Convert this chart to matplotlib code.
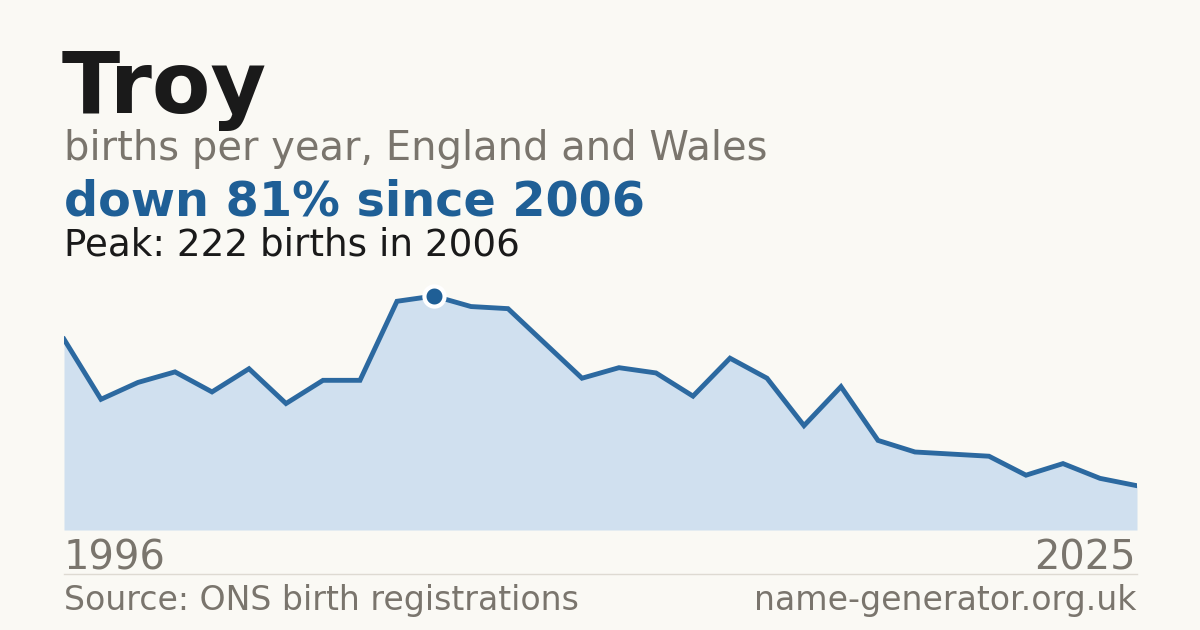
import matplotlib.pyplot as plt

plt.rcParams['font.family'] = ['DejaVu Sans']

# births per year for the name Troy
years = list(range(1996, 2026))
births = [181, 124, 140, 150, 131, 153, 120, 142, 142, 217,
          222, 212, 210, 177, 144, 154, 149, 127, 163, 144,
          99, 136, 85, 74, 72, 70, 52, 63, 49, 42]

name = "Troy"
subtitle = "births per year, England and Wales"
peak_year = 2006
peak_val = 222

bg = "#faf9f4"
blue = "#1f5f96"
line_col = "#2c69a0"
fill_col = "#d0e0ef"
grey = "#7a756d"

W, H = 1200, 630
fig = plt.figure(figsize=(12, 6.3), dpi=100, facecolor=bg)

ax = fig.add_axes([64 / W, 1 - 530 / H, (1137 - 64) / W, 250 / H])
ax.set_facecolor(bg)
ax.fill_between(years, births, 0, color=fill_col, lw=0)
ax.plot(years, births, color=line_col, lw=3.5, solid_joinstyle="miter")
ax.plot([peak_year], [peak_val], "o", ms=14.5, mfc=blue, mec="white", mew=3, zorder=5)
ax.set_xlim(years[0], years[-1])
ax.set_ylim(0, peak_val * 250 / 234)
ax.axis("off")

# thin rule above the footer
fig.add_artist(plt.Line2D([64 / W, 1137 / W], [1 - 574 / H, 1 - 574 / H],
                          color="#dedad2", lw=1))

def px(x, y):
    return x / W, 1 - y / H

drop = round((peak_val - births[-1]) / peak_val * 100)

fig.text(*px(62, 113), name, fontsize=61.5, fontweight="bold", color="#1a1a1a", va="baseline")
fig.text(*px(64, 160), subtitle, fontsize=28.8, color=grey, va="baseline")
fig.text(*px(64, 215), f"down {drop}% since {peak_year}", fontsize=34.4,
         fontweight="bold", color=blue, va="baseline")
fig.text(*px(64, 255), f"Peak: {peak_val} births in {peak_year}", fontsize=26.8,
         color="#1a1a1a", va="baseline")
fig.text(*px(64, 569), str(years[0]), fontsize=28.8, color=grey, va="baseline")
fig.text(*px(1136, 569), str(years[-1]), fontsize=28.8, color=grey, va="baseline", ha="right")
fig.text(*px(64, 610), "Source: ONS birth registrations", fontsize=23.9, color=grey, va="baseline")
fig.text(*px(1136, 610), "name-generator.org.uk", fontsize=23.9, color=grey,
         va="baseline", ha="right")

fig.savefig("out.png", dpi=100, facecolor=bg)
